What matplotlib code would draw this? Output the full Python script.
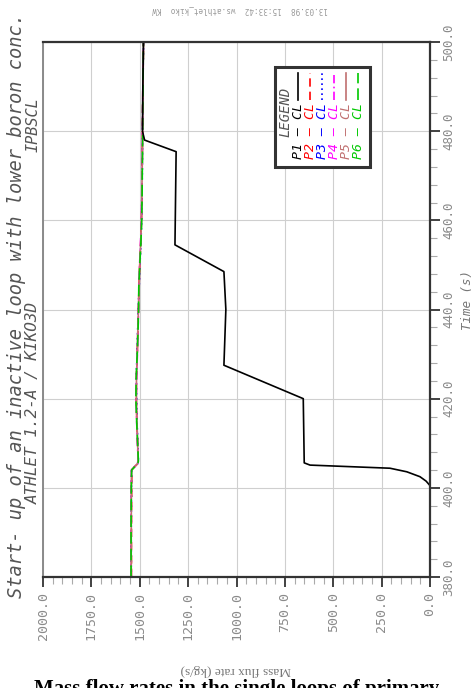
import numpy as np
import matplotlib
matplotlib.use('Agg')
import matplotlib.pyplot as plt
from matplotlib.patches import Rectangle
from matplotlib.lines import Line2D

W, H = 474, 688

# loop P1 (inactive loop being started)
time_p1 = [380.0, 400.5, 401.5, 402.5, 403.6, 404.4, 405.1, 405.6, 420.0, 427.5,
           440.0, 448.5, 454.5, 475.4, 478.0, 480.0, 490.0, 500.0]
flow_p1 = [0, 0, 20, 52, 120, 207, 620, 650, 655, 1065,
           1055, 1065, 1318, 1312, 1475, 1486, 1484, 1481]

# loops P2..P6
time_loops = [380, 390, 400, 404.0, 404.6, 405.3, 406.0, 410, 415, 420, 425, 430, 435,
              440, 445, 450, 455, 460, 465, 470, 475, 480, 485, 490, 495, 500]
flow_p2 = [1543, 1543, 1542, 1541, 1530, 1514, 1508, 1511, 1515, 1518, 1517, 1513, 1510,
           1507, 1504, 1500, 1495, 1491, 1489, 1488, 1487, 1486, 1485, 1484, 1482, 1481]
flow_p3 = [1544, 1544, 1543, 1542, 1529, 1512, 1507, 1510, 1514, 1516, 1518, 1514, 1511,
           1508, 1503, 1499, 1494, 1490, 1489, 1487, 1486, 1485, 1484, 1483, 1482, 1480]
flow_p4 = [1546, 1545, 1545, 1543, 1531, 1513, 1509, 1512, 1516, 1519, 1516, 1512, 1509,
           1506, 1504, 1501, 1496, 1492, 1490, 1488, 1487, 1486, 1485, 1484, 1483, 1481]
flow_p5 = [1544, 1544, 1543, 1542, 1530, 1513, 1508, 1511, 1515, 1517, 1517, 1513, 1510,
           1507, 1503, 1500, 1495, 1491, 1489, 1488, 1486, 1485, 1484, 1483, 1482, 1480]
flow_p6 = [1545, 1545, 1544, 1542, 1529, 1511, 1507, 1511, 1516, 1520, 1518, 1513, 1509,
           1506, 1505, 1500, 1494, 1490, 1488, 1487, 1486, 1485, 1485, 1483, 1482, 1481]

labels = ['P1 — CL', 'P2 — CL', 'P3 — CL', 'P4 — CL', 'P5 — CL', 'P6 — CL']
colors = ['black', '#ff0000', '#0000ff', '#ff00ff', '#c07070', '#00c800']
styles = ['-', (0, (5, 3)), (0, (1, 2)), (0, (5, 2, 1, 2)), '-', (0, (7, 3))]

flow_ticks = np.arange(0, 2001, 250)
time_ticks = np.arange(380, 501, 20)

mono = 'DejaVu Sans Mono'


def fxy(x, y):
    # pixel position -> figure coords
    return x / W, 1 - y / H


fig = plt.figure(figsize=(W / 100, H / 100), dpi=100)
ax = fig.add_axes([43 / W, 1 - 577 / H, 387 / W, 535 / H])

ax.grid(True, which='major', color='#cfcfcf', lw=0.8)
ax.set_axisbelow(True)

loops = [flow_p2, flow_p3, flow_p4, flow_p5, flow_p6]
for i, flow in enumerate(loops):
    ax.plot(flow, time_loops, color=colors[i + 1], ls=styles[i + 1], lw=1.2)
ax.plot(flow_p1, time_p1, color=colors[0], ls=styles[0], lw=1.2)

ax.set_xlim(2000, 0)
ax.set_ylim(380, 500)

ax.set_xticks(flow_ticks)
ax.set_xticklabels(['%.1f' % v for v in flow_ticks])
ax.set_xticks(np.arange(0, 2001, 50), minor=True)
ax.yaxis.tick_right()
ax.set_yticks(time_ticks)
ax.set_yticklabels(['%.1f' % v for v in time_ticks])
ax.set_yticks(np.arange(380, 501, 4), minor=True)

ax.tick_params(which='major', direction='out', length=7, width=1.3, color='#333',
               labelsize=9.5, labelcolor='#8a8a8a', pad=4)
ax.tick_params(axis='y', which='major', labelsize=9, pad=2)
ax.tick_params(which='minor', direction='out', length=5, width=0.8, color='#aaaaaa')
for lab in ax.get_xticklabels() + ax.get_yticklabels():
    lab.set_rotation(90)
    lab.set_family(mono)
for lab in ax.get_yticklabels():
    lab.set_va('center')

for side in ['top', 'right', 'bottom']:
    ax.spines[side].set_color('#333')
    ax.spines[side].set_linewidth(1.6)
ax.spines['left'].set_color('#8a8a8a')
ax.spines['left'].set_linewidth(1.4)

# axis titles
fig.text(*fxy(468, 300), 'Time (s)', rotation=90, ha='center', va='center',
         family=mono, style='italic', fontsize=9, color='#777')
fig.text(*fxy(236, 670), 'Mass flux rate (kg/s)', rotation=180, ha='center', va='center',
         family='Liberation Serif', fontsize=9.5, color='#777')

# plot titles
fig.text(*fxy(17, 305), 'Start- up of an inactive loop with lower boron conc.', rotation=90,
         ha='center', va='center', family=mono, style='italic', fontsize=13.5, color='#555')
fig.text(*fxy(33, 403), 'ATHLET 1.2-A / KIKO3D', rotation=90,
         ha='center', va='center', family=mono, style='italic', fontsize=11.5, color='#555')
fig.text(*fxy(33, 125), 'IPBSCL', rotation=90,
         ha='center', va='center', family=mono, style='italic', fontsize=11, color='#555')
fig.text(*fxy(240, 10), '13.03.98  15:33:42  ws.athlet_kiko  KW', rotation=180,
         ha='center', va='center', family=mono, fontsize=5.5, color='#999')

# legend box
x0, y0 = fxy(275, 167)
box = Rectangle((x0, y0), 95 / W, 100 / H, transform=fig.transFigure,
                facecolor='white', edgecolor='#333', lw=2.2, zorder=5)
fig.add_artist(box)
fig.text(*fxy(285, 112), 'LEGEND', rotation=90, ha='center', va='center', family=mono,
         style='italic', fontsize=10, color='#555', zorder=6)
cols = [298, 310, 322, 334, 346, 358]
for i in range(6):
    fig.text(*fxy(cols[i], 131), labels[i], rotation=90, ha='center', va='center',
             family=mono, style='italic', fontsize=9.5, color=colors[i], zorder=6)
    xa, ya = fxy(cols[i], 100)
    xb, yb = fxy(cols[i], 73)
    fig.add_artist(Line2D([xa, xb], [ya, yb], transform=fig.transFigure, color=colors[i],
                          ls=styles[i], lw=1.2, zorder=6))

# caption (cut off by the page edge, as in the scanned page)
fig.text(*fxy(237, 694), 'Mass flow rates in the single loops of primary', ha='center',
         va='baseline', family='Liberation Serif', weight='bold', fontsize=15, color='black')

fig.savefig('out.png', dpi=100)
